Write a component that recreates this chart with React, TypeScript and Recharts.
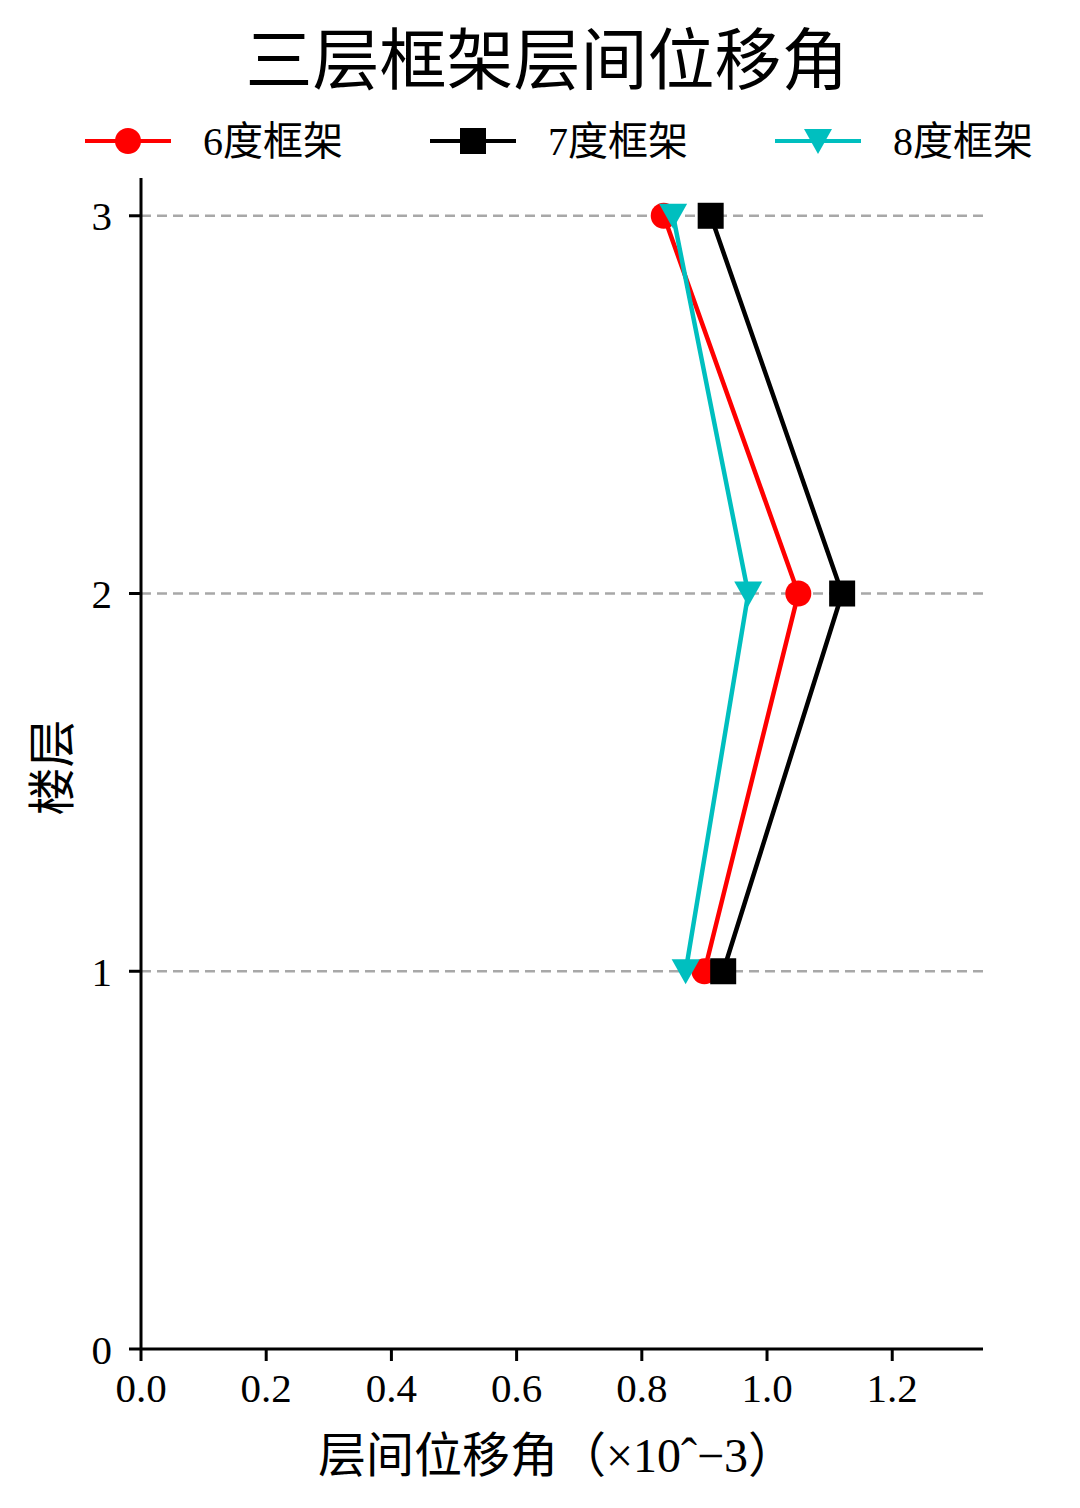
import React from 'react';
import { ScatterChart, Scatter, XAxis, YAxis, ReferenceLine, Legend, Label } from 'recharts';

// 楼层
const floors = [1, 2, 3];
// 层间位移角 (×10^-3)
const drift6 = [0.9, 1.05, 0.835];
const drift7 = [0.93, 1.12, 0.91];
const drift8 = [0.87, 0.97, 0.85];

const seriesNames = ['6度框架', '7度框架', '8度框架'];
const xTicks = [0, 0.2, 0.4, 0.6, 0.8, 1.0, 1.2];
const yTicks = [0, 1, 2, 3];
const gridFloors = [1, 2, 3];

const FONT = "'Liberation Serif', 'Noto Sans CJK SC', serif";

const toPoints = (vals: number[]) => floors.map((f, i) => ({ x: vals[i], y: f }));

const Marker = ({ kind, cx, cy, color }: { kind: string; cx: number; cy: number; color: string }) => {
  if (kind === 'circle') return <circle cx={cx} cy={cy} r={13} fill={color} />;
  if (kind === 'square') return <rect x={cx - 13} y={cy - 13} width={26} height={26} fill={color} />;
  return <polygon points={`${cx - 14},${cy - 12} ${cx + 14},${cy - 12} ${cx},${cy + 13}`} fill={color} />;
};

const series = [
  { name: seriesNames[0], data: toPoints(drift6), color: '#ff0000', kind: 'circle' },
  { name: seriesNames[1], data: toPoints(drift7), color: '#000000', kind: 'square' },
  { name: seriesNames[2], data: toPoints(drift8), color: '#00bfbf', kind: 'triangle' },
];

const renderLegend = () => (
  <svg width={1080} height={60} style={{ overflow: 'visible' }}>
    {series.map((s, i) => {
      const x0 = 85 + i * 345;
      return (
        <g key={s.name}>
          <line x1={x0} x2={x0 + 86} y1={26} y2={26} stroke={s.color} strokeWidth={4} />
          <Marker kind={s.kind} cx={x0 + 43} cy={26} color={s.color} />
          <text x={x0 + 118} y={40} fontSize={40} fontFamily={FONT} fill="#000">{s.name}</text>
        </g>
      );
    })}
  </svg>
);

export default function App() {
  return (
    <div style={{ position: 'absolute', left: 0, top: 0, width: 1080, height: 1508, background: '#fff' }}>
      <ScatterChart width={1080} height={1508} margin={{ top: 178, right: 97, bottom: 0, left: 0 }}>
        <text x={547} y={84} textAnchor="middle" fontSize={67} fontFamily={FONT} fill="#000">三层框架层间位移角</text>
        <Legend
          verticalAlign="top"
          content={renderLegend}
          wrapperStyle={{ position: 'absolute', top: 115, left: 0, width: 1080, height: 0 }}
        />
        {gridFloors.map((f) => (
          <ReferenceLine key={f} y={f} stroke="#a8a8a8" strokeWidth={2.5} strokeDasharray="10 6" strokeOpacity={1} />
        ))}
        <XAxis
          type="number"
          dataKey="x"
          domain={[0, 1.345]}
          ticks={xTicks}
          allowDataOverflow
          tickFormatter={(v: number) => v.toFixed(1)}
          height={159}
          stroke="#000"
          strokeWidth={3}
          tickSize={12}
          tickMargin={12}
          tick={{ fontSize: 41, fontFamily: FONT, fill: '#000' }}
        >
          <Label
            content={(props: any) => {
              const vb = props.viewBox;
              return (
                <text x={vb.x + vb.width / 2 - 5} y={1472} textAnchor="middle" fontSize={48} fontFamily={FONT} fill="#000">
                  层间位移角（×10ˆ−3）
                </text>
              );
            }}
          />
        </XAxis>
        <YAxis
          type="number"
          dataKey="y"
          domain={[0, 3.1]}
          ticks={yTicks}
          allowDataOverflow
          width={141}
          stroke="#000"
          strokeWidth={3}
          tickSize={12}
          tickMargin={17}
          tick={{ fontSize: 41, fontFamily: FONT, fill: '#000' }}
        >
          <Label
            content={(props: any) => {
              const vb = props.viewBox;
              const cy = vb.y + vb.height / 2 + 4;
              return (
                <text x={52} y={cy} transform={`rotate(-90 52 ${cy})`} textAnchor="middle" dominantBaseline="central" fontSize={48} fontFamily={FONT} fill="#000">
                  楼层
                </text>
              );
            }}
          />
        </YAxis>
        {series.map((s) => (
          <Scatter
            key={s.name}
            name={s.name}
            data={s.data}
            fill={s.color}
            line={{ stroke: s.color, strokeWidth: 4.5 }}
            lineType="joint"
            isAnimationActive={false}
            shape={(p: any) => <Marker kind={s.kind} cx={p.cx} cy={p.cy} color={s.color} />}
          />
        ))}
      </ScatterChart>
    </div>
  );
}
